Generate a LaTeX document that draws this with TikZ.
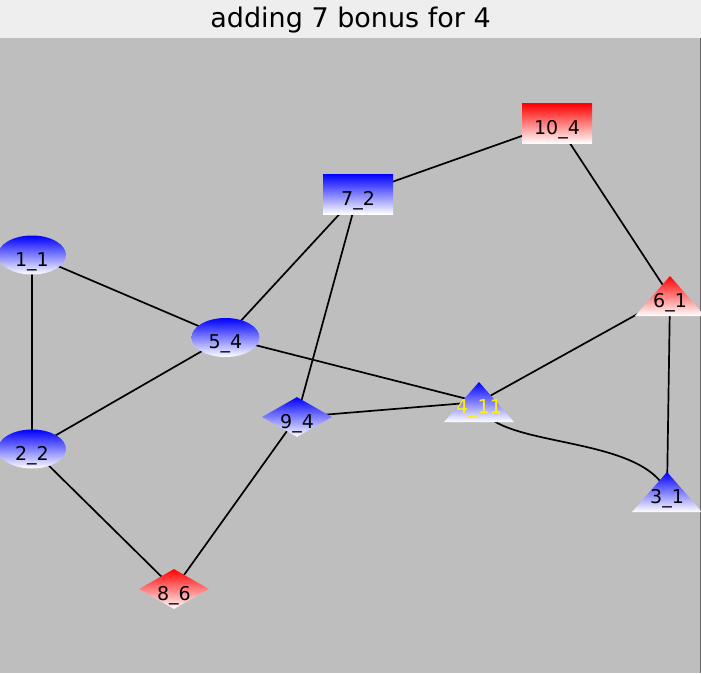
\documentclass[tikz,border=0pt]{standalone}
\usepackage{fontspec}
\setmainfont{DejaVu Sans}
\usetikzlibrary{shapes.geometric,calc}
\pgfdeclarelayer{bg}
\pgfdeclarelayer{edges}
\pgfsetlayers{bg,edges,main}
\definecolor{panel}{HTML}{BEBEBE}
\definecolor{titlebar}{HTML}{EEEEEE}
\tikzset{
  bluefill/.style={top color=blue, bottom color=white, draw=none},
  redfill/.style={top color=red, bottom color=white, draw=none},
  ellnode/.style={ellipse, minimum width=68pt, minimum height=39pt, inner sep=0pt},
  recnode/.style={rectangle, minimum width=70pt, minimum height=40pt, inner sep=0pt},
  dianode/.style={diamond, minimum width=70pt, minimum height=40pt, inner sep=0pt},
  lbl/.style={anchor=base, inner sep=0pt, font=\fontsize{19}{22}\selectfont},
  edge/.style={draw=black, line width=1.7pt},
}
\begin{document}
\begin{tikzpicture}[x=1pt,y=-1pt]
\useasboundingbox (0,0) rectangle (701,673);
\begin{pgfonlayer}{bg}
\fill[panel] (0,38) rectangle (701,673);
\fill[titlebar] (0,0) rectangle (701,38);
\draw[gray!80!black, line width=1pt] (700.5,38) -- (700.5,673);
\end{pgfonlayer}
\node[inner sep=0pt, font=\fontsize{27}{30}\selectfont] (title) at (350.5,20) {adding 7 bonus for 4};

% nodes
\node[ellnode, bluefill] (n1) at (32,255) {};
\node[ellnode, bluefill] (n2) at (32,449) {};
\node[ellnode, bluefill] (n5) at (225.5,337.5) {};
\node[recnode, bluefill] (n7) at (358,194) {};
\node[recnode, redfill] (n10) at (557,123.5) {};
\node[dianode, bluefill] (n9) at (297,417) {};
\node[dianode, redfill] (n8) at (174,589) {};
\coordinate (n6) at (670,296);
\coordinate (n4) at (479,402);
\coordinate (n3) at (667,492);
\shade[redfill] ($(n6)+(0,-20)$) -- ($(n6)+(35,20)$) -- ($(n6)+(-35,20)$) -- cycle;
\shade[bluefill] ($(n4)+(0,-20)$) -- ($(n4)+(35,20)$) -- ($(n4)+(-35,20)$) -- cycle;
\shade[bluefill] ($(n3)+(0,-20)$) -- ($(n3)+(35,20)$) -- ($(n3)+(-35,20)$) -- cycle;

% labels
\node[lbl] (l1) at ($(n1)+(0,11)$) {1\_1};
\node[lbl] (l2) at ($(n2)+(0,11)$) {2\_2};
\node[lbl] (l5) at ($(n5)+(0,11)$) {5\_4};
\node[lbl] (l7) at ($(n7)+(0,11)$) {7\_2};
\node[lbl] (l10) at ($(n10)+(0,11)$) {10\_4};
\node[lbl] (l9) at ($(n9)+(0,11)$) {9\_4};
\node[lbl] (l8) at ($(n8)+(0,11)$) {8\_6};
\node[lbl] (l6) at ($(n6)+(0,11)$) {6\_1};
\node[lbl, text=yellow] (l4) at ($(n4)+(0,11)$) {4\_11};
\node[lbl] (l3) at ($(n3)+(0,11)$) {3\_1};

% edges
\begin{pgfonlayer}{edges}
\draw[edge] (n1.center) -- (n5.center);
\draw[edge] (n1.center) -- (n2.center);
\draw[edge] (n2.center) -- (n5.center);
\draw[edge] (n2.center) -- (n8.center);
\draw[edge] (n5.center) -- (n7.center);
\draw[edge] (n5.center) -- (n4);
\draw[edge] (n7.center) -- (n10.center);
\draw[edge] (n7.center) -- (n9.center);
\draw[edge] (n9.center) -- (n4);
\draw[edge] (n9.center) -- (n8.center);
\draw[edge] (n10.center) -- (n6);
\draw[edge] (n6) -- (n4);
\draw[edge] (n6) -- (n3);
\draw[edge] (n4) .. controls (488,450) and (640,432) .. (n3);
\end{pgfonlayer}
\end{tikzpicture}
\end{document}
